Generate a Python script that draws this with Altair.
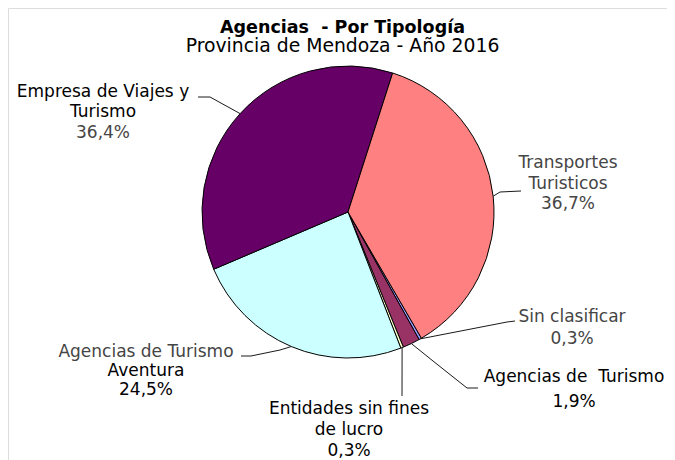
import math
import altair as alt
import pandas as pd

# ---- data ----
categories = [
    "Sin clasificar",
    "Agencias de Turismo",
    "Entidades sin fines de lucro",
    "Agencias de Turismo Aventura",
    "Empresa de Viajes y Turismo",
    "Transportes Turísticos",
]
values = [0.3, 1.9, 0.3, 24.5, 36.4, 36.7]
colors = ["#9999FF", "#993366", "#FFFFCC", "#CCFFFF", "#660066", "#FF8080"]
label_lines = [
    ["Sin clasificar"],
    ["Agencias de\u00a0 Turismo"],
    ["Entidades sin fines", "de lucro"],
    ["Agencias de Turismo", "Aventura"],
    ["Empresa de Viajes y", "Turismo"],
    ["Transportes", "Turisticos"],
]

# ---- layout (page pixel coordinates) ----
FONT = "DejaVu Sans"
CX, CY, R = 348, 212, 146
START_DEG = 149.8
W, H = 659, 452
label_layout = {
    "Sin clasificar": dict(x=572, y=317, gap=22, tone=["#454545", "#454545"]),
    "Agencias de Turismo": dict(x=574, y=377, gap=25, tone=["#000000", "#000000"]),
    "Entidades sin fines de lucro": dict(x=349, y=409, gap=21, tone=["#000000"] * 3),
    "Agencias de Turismo Aventura": dict(x=146, y=352, gap=19, tone=["#454545", "#000000", "#000000"]),
    "Empresa de Viajes y Turismo": dict(x=103, y=91.5, gap=20.5, tone=["#000000", "#000000", "#454545"]),
    "Transportes Turísticos": dict(x=568, y=163, gap=20.5, tone=["#454545"] * 3),
}
leader_layout = {
    "Sin clasificar": [(507, 322), (515, 321)],
    "Agencias de Turismo": [(433, 361), (467, 388), (478, 388)],
    "Entidades sin fines de lucro": [(402, 396)],
    "Agencias de Turismo Aventura": [(280, 350), (251, 356), (241, 356)],
    "Empresa de Viajes y Turismo": [(210, 97), (198, 97)],
    "Transportes Turísticos": [(500, 192), (521, 191)],
}

total = sum(values)
pie_df = pd.DataFrame({"cat": categories, "value": values, "idx": range(len(values))})

text_rows, line_rows = [], []
cum = 0.0
for cat, v, lines in zip(categories, values, label_lines):
    mid = math.radians(START_DEG + (cum + v / 2) / total * 360)
    cum += v
    ex, ey = CX + R * math.sin(mid), CY - R * math.cos(mid)
    pts = [(ex, ey)] + leader_layout[cat]
    for k, (px, py) in enumerate(pts):
        line_rows.append({"cat": cat, "k": k, "x": px, "y": py})
    lay = label_layout[cat]
    all_lines = lines + [f"{v:.1f}".replace(".", ",") + "%"]
    for j, t in enumerate(all_lines):
        text_rows.append({"cat": cat, "text": t, "x": lay["x"], "y": lay["y"] + j * lay["gap"],
                          "tone": lay["tone"][j]})

text_df = pd.DataFrame(text_rows)
line_df = pd.DataFrame(line_rows)

xs = alt.Scale(domain=[8, 8 + W], range=[0, W])
ys = alt.Scale(domain=[8, 8 + H], range=[0, H])

start = math.radians(START_DEG)
pie = alt.Chart(pie_df).mark_arc(outerRadius=R, stroke="#000000", strokeWidth=1).encode(
    theta=alt.Theta("value:Q", stack=True, scale=alt.Scale(range=[start, start + 2 * math.pi])),
    order=alt.Order("idx:Q"),
    color=alt.Color("cat:N", scale=alt.Scale(domain=categories, range=colors), legend=None),
    x=alt.value(CX - 8),
    y=alt.value(CY - 8),
)

leaders = alt.Chart(line_df).mark_line(color="#1a1a1a", strokeWidth=1).encode(
    x=alt.X("x:Q", scale=xs, axis=None),
    y=alt.Y("y:Q", scale=ys, axis=None),
    detail="cat:N",
    order="k:Q",
)

labels = alt.Chart(text_df).mark_text(font=FONT, fontSize=17, align="center", baseline="middle").encode(
    x=alt.X("x:Q", scale=xs, axis=None),
    y=alt.Y("y:Q", scale=ys, axis=None),
    text="text:N",
    color=alt.Color("tone:N", scale=None),
)

chart = alt.layer(pie, leaders, labels).properties(
    width=W,
    height=H,
    padding=0,
    autosize=alt.AutoSizeParams(type="none"),
    title=alt.Title(
        text="Agencias\u00a0 - Por Tipología",
        subtitle="Provincia de Mendoza - Año 2016",
        anchor="middle",
        orient="top",
        offset=-48,
        font=FONT,
        fontSize=17.5,
        fontWeight="bold",
        color="#000000",
        subtitleFont=FONT,
        subtitleFontSize=18.8,
        subtitleColor="#000000",
        subtitlePadding=1,
        dx=5,
    ),
).configure_view(stroke=None).configure(background="#ffffff")

chart.save("out.html", embed_options={"renderer": "svg", "actions": False})
